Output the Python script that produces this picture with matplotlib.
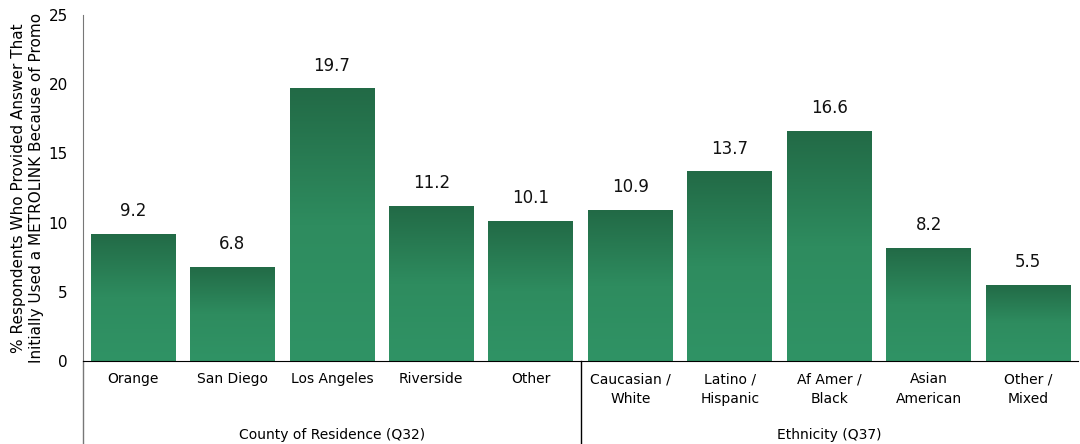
import matplotlib.pyplot as plt
import numpy as np
from matplotlib.colors import LinearSegmentedColormap

categories = ["Orange", "San Diego", "Los Angeles", "Riverside", "Other",
              "Caucasian /\nWhite", "Latino /\nHispanic", "Af Amer /\nBlack",
              "Asian\nAmerican", "Other /\nMixed"]
values = [9.2, 6.8, 19.7, 11.2, 10.1, 10.9, 13.7, 16.6, 8.2, 5.5]
groups = ["County of Residence (Q32)", "Ethnicity (Q37)"]
group_sizes = [5, 5]

plt.rcParams["font.family"] = ["DejaVu Sans"]

fig = plt.figure(figsize=(10.8, 4.44), dpi=100)
ax = fig.add_axes([0.077, 0.187, 0.921, 0.779])

x = np.arange(len(categories))
bars = ax.bar(x, values, width=0.85, color="none", zorder=2)

cmap = LinearSegmentedColormap.from_list("grn", ["#309365", "#2e8c5f", "#226a46"])
grad = np.linspace(0, 1, 256).reshape(-1, 1)
for b, v in zip(bars, values):
    x0 = b.get_x()
    w = b.get_width()
    im = ax.imshow(grad, cmap=cmap, origin="lower", aspect="auto",
                   extent=[x0, x0 + w, 0, v], zorder=2)
    im.set_clip_path(b)
    ax.text(b.get_x() + w / 2, v + 1.0, f"{v:.1f}", ha="center", va="bottom",
            fontsize=12, color="#111111")

ax.set_xlim(-0.5, len(categories) - 0.5)
ax.set_ylim(0, 25)
ax.set_yticks(range(0, 26, 5))
ax.tick_params(axis="y", length=0, labelsize=11, pad=11)
ax.set_xticks(x)
ax.set_xticklabels(categories, fontsize=10, linespacing=1.5)
ax.tick_params(axis="x", length=0, pad=8)

for s in ["top", "right"]:
    ax.spines[s].set_visible(False)
ax.spines["left"].set_color("#777777")
ax.spines["bottom"].set_color("#000000")

ax.set_ylabel("% Respondents Who Provided Answer That\nInitially Used a METROLINK Because of Promo",
              fontsize=11, linespacing=1.3)
ax.yaxis.set_label_coords(-0.039, 0.5)

# extend left spine and draw group separator below axis
trans = ax.get_xaxis_transform()
ax.plot([-0.5, -0.5], [0, -0.24], transform=trans, color="#777777", lw=1, clip_on=False)
start = 0
for g, n in zip(groups, group_sizes):
    end = start + n
    ax.text((start + end - 1) / 2, -0.215, g, transform=trans, ha="center", va="center",
            fontsize=10)
    if end < len(categories):
        ax.plot([end - 0.5, end - 0.5], [0, -0.24], transform=trans, color="#000000",
                lw=1, clip_on=False)
    start = end

fig.savefig("out.png", dpi=100)
